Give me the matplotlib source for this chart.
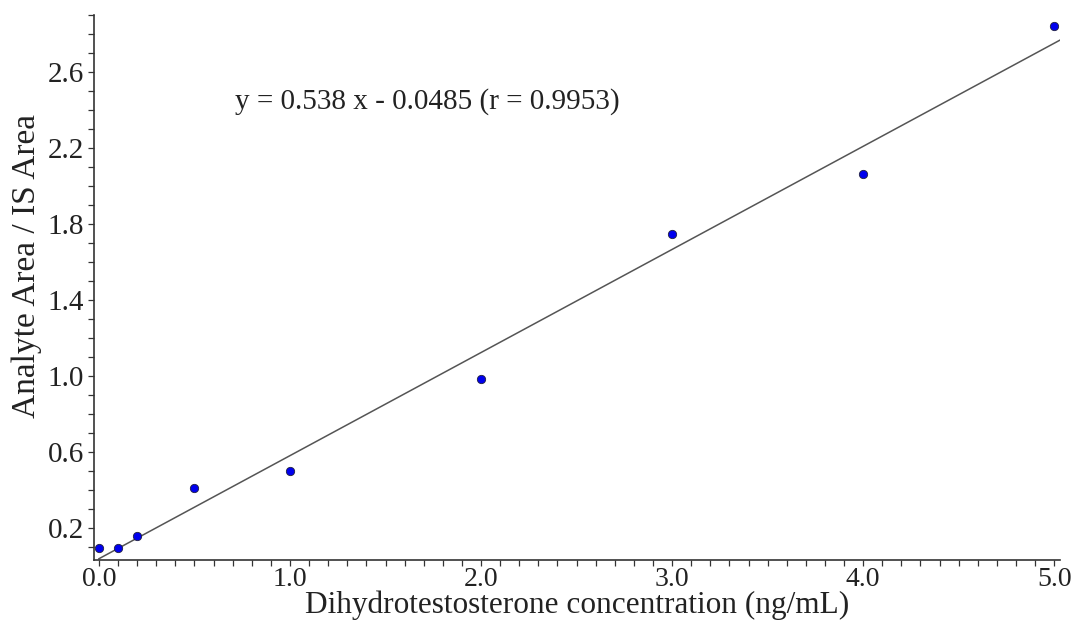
import matplotlib

matplotlib.use("Agg")
import matplotlib.pyplot as plt
import numpy as np
from matplotlib.ticker import MultipleLocator, FixedLocator

# calibration standards (ng/mL) and measured area ratios
conc = [0.0, 0.1, 0.2, 0.5, 1.0, 2.0, 3.0, 4.0, 5.0]
ratio = [0.095, 0.095, 0.155, 0.41, 0.50, 0.985, 1.745, 2.065, 2.845]

# regression line as drawn on the figure
fit_slope = 0.543
fit_intercept = 0.037
fit_x = [0.0, 5.03]

eq_text = "y = 0.538 x - 0.0485 (r = 0.9953)"
y_ticklabels = [0.2, 0.6, 1.0, 1.4, 1.8, 2.2, 2.6]
x_ticklabels = [0.0, 1.0, 2.0, 3.0, 4.0, 5.0]

plt.rcParams["font.family"] = ["Liberation Serif", "DejaVu Serif"]

fig = plt.figure(figsize=(10.75, 6.3), dpi=100)
ax = fig.add_axes([0.0874, 0.111, 0.8986, 0.865])

xs = np.array(fit_x)
ax.plot(xs, fit_slope * xs + fit_intercept, color="#555555", linewidth=1.1, zorder=2)
ax.plot(conc, ratio, "o", color="#0000ee", markeredgecolor="#202040",
        markeredgewidth=0.6, markersize=6, zorder=3)

ax.set_xlim(-0.026, 5.03)
ax.set_ylim(0.03, 2.9)

ax.xaxis.set_major_locator(FixedLocator(x_ticklabels))
ax.xaxis.set_minor_locator(MultipleLocator(0.1))
ax.yaxis.set_major_locator(FixedLocator(y_ticklabels))
ax.yaxis.set_minor_locator(MultipleLocator(0.1))
ax.set_xticklabels([f"{v:.1f}" for v in x_ticklabels])
ax.set_yticklabels([f"{v:.1f}" for v in y_ticklabels])

for side in ("top", "right"):
    ax.spines[side].set_visible(False)
for side in ("left", "bottom"):
    ax.spines[side].set_color("#333333")
    ax.spines[side].set_linewidth(1.2)

ax.tick_params(which="both", direction="out", length=4, width=0.9,
               color="#333333", labelsize=21, labelcolor="#222222", pad=3)
ax.tick_params(axis="x", which="both", labelsize=20, pad=1)

ax.set_xlabel("Dihydrotestosterone concentration (ng/mL)", fontsize=22.5,
              color="#222222", labelpad=-1)
ax.set_ylabel("Analyte Area / IS Area", fontsize=24, color="#222222")
ax.yaxis.set_label_coords(-0.054, 0.54)

ax.text(0.712, 2.447, eq_text, fontsize=21, color="#222222", va="center", ha="left")

fig.savefig("out.png", dpi=100)
